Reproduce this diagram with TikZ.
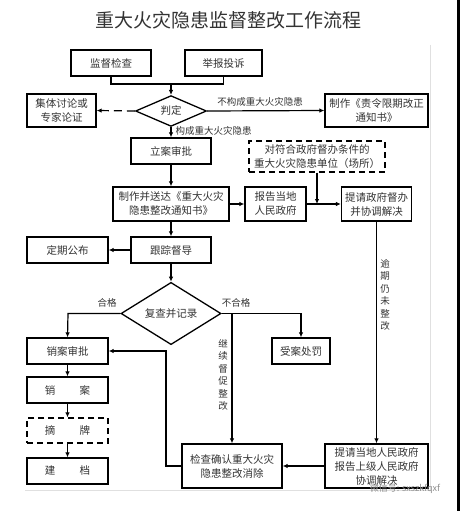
\documentclass[tikz,border=0pt]{standalone}
\usepackage{fontspec}
\setmainfont{Noto Sans CJK SC}
\usetikzlibrary{shapes.geometric,arrows.meta}
\begin{document}
\begin{tikzpicture}[x=1pt,y=-1pt,
  every node/.style={text=black!80, font=\fontsize{10.5}{14}\selectfont},
  box/.style={draw=black, line width=1.3pt, inner sep=0pt, align=center},
  dbox/.style={box, dash pattern=on 6pt off 4pt},
  dia/.style={draw=black, line width=1.3pt, diamond, inner sep=0pt},
  con/.style={draw=black, line width=1.2pt},
  arr/.style={con, -{Latex[length=5pt,width=4.5pt]}},
  lbl/.style={font=\fontsize{9.5}{12}\selectfont},
  vlbl/.style={font=\fontsize{9.5}{12.5}\selectfont, align=center, inner sep=0pt}]
\useasboundingbox (0,0) rectangle (460,511);
\fill[white] (0,0) rectangle (460,511);
\fill[black] (457,0) rectangle (460,511);
\draw[black!12, line width=0.8pt] (430,45) -- (430,490) -- (25,490);
% title
\node (title) at (228,20) {\fontsize{19}{21}\selectfont 重大火灾隐患监督整改工作流程};
% nodes
\node[box, minimum width=80, minimum height=26] (jdjc) at (111,63) {监督检查};
\node[box, minimum width=77, minimum height=26] (jbts) at (223.5,63) {举报投诉};
\node[dia, minimum width=71, minimum height=28] (pd) at (171,111) {判定};
\node[box, minimum width=69, minimum height=33] (jt) at (61.5,110.5) {集体讨论或\\专家论证};
\node[box, minimum width=103, minimum height=33] (zz) at (376.5,110.5) {制作《责令限期改正\\通知书》};
\node[box, minimum width=80, minimum height=26] (la) at (171,151) {立案审批};
\node[dbox, minimum width=136, minimum height=31] (db) at (317,156.5) {对符合政府督办条件的\\重大火灾隐患单位（场所）};
\node[box, minimum width=116, minimum height=34] (zs) at (171,204) {制作并送达《重大火灾\\隐患整改通知书》};
\node[box, minimum width=61, minimum height=34] (bg) at (275.5,204) {报告当地\\人民政府};
\node[box, minimum width=70, minimum height=34] (tq) at (376.5,204) {提请政府督办\\并协调解决};
\node[box, minimum width=80, minimum height=26] (gz) at (171,250) {跟踪督导};
\node[box, minimum width=81, minimum height=26] (dq) at (67.5,250) {定期公布};
\node[dia, minimum width=100, minimum height=47] (fc) at (171,313.5) {复查并记录};
\node[box, minimum width=81, minimum height=26] (xs) at (67.5,351) {销案审批};
\node[box, minimum width=58, minimum height=26] (sa) at (301,351) {受案处罚};
\node[box, minimum width=81, minimum height=26] (xa) at (67.5,390) {销\hspace{2.3em}案};
\node[dbox, minimum width=81, minimum height=25] (zp) at (67.5,430.5) {摘\hspace{2.3em}牌};
\node[box, minimum width=81, minimum height=26] (jd) at (67.5,471) {建\hspace{2.3em}档};
\node[box, minimum width=100, minimum height=44] (jc) at (232,466) {检查确认重大火灾\\隐患整改消除};
\node[box, minimum width=103, minimum height=44] (tq2) at (376.5,466) {提请当地人民政府\\报告上级人民政府\\协调解决};
% coordinates
\coordinate (m1) at (111,84);
\coordinate (m2) at (223.5,84);
\coordinate (m0) at (171,84);
\coordinate (dbj) at (317,204);
\coordinate (hg) at (68,313.5);
\coordinate (bhg) at (301,313.5);
\coordinate (jx) at (232,313.5);
\coordinate (r1) at (166,466);
\coordinate (r2) at (166,351);
% connectors
\draw[con] (jdjc.south) -- (m1) -- (m2) -- (jbts.south);
\draw[arr] (m0) -- (pd.north);
\draw[arr, dash pattern=on 8pt off 5pt] (pd.west) -- (jt.east);
\draw[arr] (pd.east) -- (zz.west);
\node[lbl] (l1) at (260,102) {不构成重大火灾隐患};
\draw[arr] (pd.south) -- (la.north);
\node[lbl, anchor=west] (l2) at (172,130.5) {构成重大火灾隐患};
\draw[arr] (la.south) -- (zs.north);
\draw[arr] (zs.east) -- (bg.west);
\draw[arr] (bg.east) -- (tq.west);
\draw[arr] (db.south) -- (dbj);
\draw[arr] (zs.south) -- (gz.north);
\draw[arr] (gz.west) -- (dq.east);
\draw[arr] (gz.south) -- (fc.north);
\draw[arr] (fc.west) -- (hg) -- (xs.north);
\node[lbl] (l3) at (107,303) {合格};
\draw[arr] (fc.east) -- (bhg) -- (sa.north);
\node[lbl] (l4) at (236,303) {不合格};
\draw[arr] (jx) -- (jc.north);
\node[vlbl] (l5) at (223,375) {继\\续\\督\\促\\整\\改};
\draw[arr] (jc.west) -- (r1) -- (r2) -- (xs.east);
\draw[arr] (tq.south) -- (tq2.north);
\node[vlbl] (l6) at (385,295) {逾\\期\\仍\\未\\整\\改};
\draw[arr] (tq2.west) -- (jc.east);
\draw[arr] (xs.south) -- (xa.north);
\draw[arr] (xa.south) -- (zp.north);
\draw[arr] (zp.south) -- (jd.north);
% watermark
\node[text=black!45, font=\fontsize{9}{10}\selectfont] (wm) at (405,489) {微信号: sxszkfqxf};
\end{tikzpicture}
\end{document}
